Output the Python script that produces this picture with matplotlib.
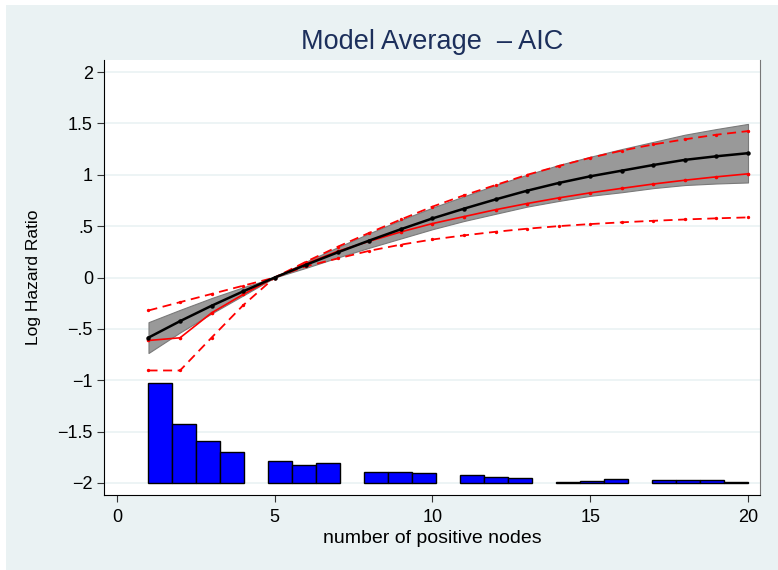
import numpy as np
import matplotlib
matplotlib.use('Agg')
from matplotlib import pyplot as plt
from matplotlib.patches import Rectangle

plt.rcParams['font.family'] = ['Liberation Sans', 'DejaVu Sans']
plt.rcParams['lines.scale_dashes'] = False

# positive nodes (evaluation points)
nodes = list(range(1, 21))

# model averaged log hazard ratio and its confidence band
avg_lhr = [-0.585, -0.425, -0.275, -0.135, 0, 0.125, 0.245, 0.36, 0.47, 0.575,
           0.67, 0.76, 0.845, 0.92, 0.985, 1.04, 1.095, 1.145, 1.18, 1.21]
avg_upper = [-0.435, -0.315, -0.2, -0.095, 0, 0.155, 0.295, 0.43, 0.56, 0.68,
             0.79, 0.9, 1.0, 1.095, 1.175, 1.25, 1.32, 1.39, 1.445, 1.495]
avg_lower = [-0.735, -0.535, -0.35, -0.175, 0, 0.095, 0.195, 0.29, 0.38, 0.47,
             0.55, 0.62, 0.69, 0.745, 0.795, 0.83, 0.87, 0.9, 0.915, 0.925]

# individual models
model_solid = [-0.613, -0.587, -0.344, -0.165, 0, 0.135, 0.256, 0.353, 0.444, 0.525,
               0.593, 0.66, 0.72, 0.775, 0.824, 0.868, 0.91, 0.947, 0.98, 1.009]
model_steep = [-0.905, -0.905, -0.585, -0.27, 0, 0.155, 0.3, 0.435, 0.565, 0.69,
               0.8, 0.9, 1.0, 1.085, 1.165, 1.235, 1.295, 1.345, 1.39, 1.425]
model_flat = [-0.321, -0.24, -0.16, -0.08, 0, 0.11, 0.185, 0.26, 0.32, 0.37,
              0.41, 0.445, 0.475, 0.5, 0.52, 0.537, 0.552, 0.565, 0.576, 0.585]

# histogram of positive nodes (drawn above -2)
hist_base = -2
hist_height = [0.97, 0.574, 0.41, 0.30, 0, 0.214, 0.172, 0.19, 0, 0.105, 0.105, 0.10,
               0, 0.075, 0.062, 0.05, 0, 0.013, 0.022, 0.035, 0, 0.026, 0.026, 0.026, 0.013]

yticks = [2, 1.5, 1, 0.5, 0, -0.5, -1, -1.5, -2]
ytick_labels = ['2', '1.5', '1', '.5', '0', '\u2212.5', '\u22121', '\u22121.5', '\u22122']
xticks = [0, 5, 10, 15, 20]

fig = plt.figure(figsize=(7.78, 5.70), dpi=100, facecolor='white')
fig.patches.append(Rectangle((6 / 778, 0), 1, 565 / 570, transform=fig.transFigure,
                             facecolor='#eaf2f3', edgecolor='none', zorder=-10))
ax = fig.add_axes([104 / 778, 75 / 570, 656 / 778, 435 / 570])
ax.set_facecolor('white')

# empty bins are not drawn
edges = np.linspace(1, 20, len(hist_height) + 1)
h = np.array(hist_height)
keep = h > 0
ax.bar(edges[:-1][keep], h[keep], width=np.diff(edges)[keep], bottom=hist_base, align='edge',
       color='#0000ff', edgecolor='black', linewidth=1.0, zorder=2)

ax.fill_between(nodes, avg_lower, avg_upper, facecolor='#999999', edgecolor='#7a7a7a',
                linewidth=0.8, zorder=3)
ax.plot(nodes, avg_lhr, color='black', lw=1.8, marker='o', ms=2.2, zorder=5)
ax.plot(nodes, model_solid, color='red', lw=1.2, marker='o', ms=1.6, zorder=4)
ax.plot(nodes, model_steep, color='red', lw=1.3, ls=(0, (6.5, 4)), marker='o', ms=1.4, zorder=4)
ax.plot(nodes, model_flat, color='red', lw=1.3, ls=(0, (6.5, 4)), marker='o', ms=1.4, zorder=4)

ax.set_xlim(-0.41, 20.38)
ax.set_ylim(-2.117, 2.117)
ax.set_yticks(yticks)
ax.set_yticklabels(ytick_labels)
ax.set_xticks(xticks)
ax.grid(axis='y', color='#eaf2f3', lw=1.2)
ax.set_axisbelow(True)
ax.tick_params(labelsize=13, length=5, width=0.8, color='#333333', pad=3)
ax.tick_params(axis='x', pad=5)

ax.spines['top'].set_visible(False)
ax.spines['right'].set_color('#777777')
ax.spines['left'].set_color('black')
ax.spines['bottom'].set_color('black')

ax.set_ylabel('Log Hazard Ratio', size=12.5, labelpad=12)
ax.set_xlabel('number of positive nodes', size=14, labelpad=3)
ax.set_title('Model Average  \u2013 AIC', size=19.5, color='#1c2f5b', pad=8)

fig.savefig('out.png', dpi=100, facecolor=fig.get_facecolor())
